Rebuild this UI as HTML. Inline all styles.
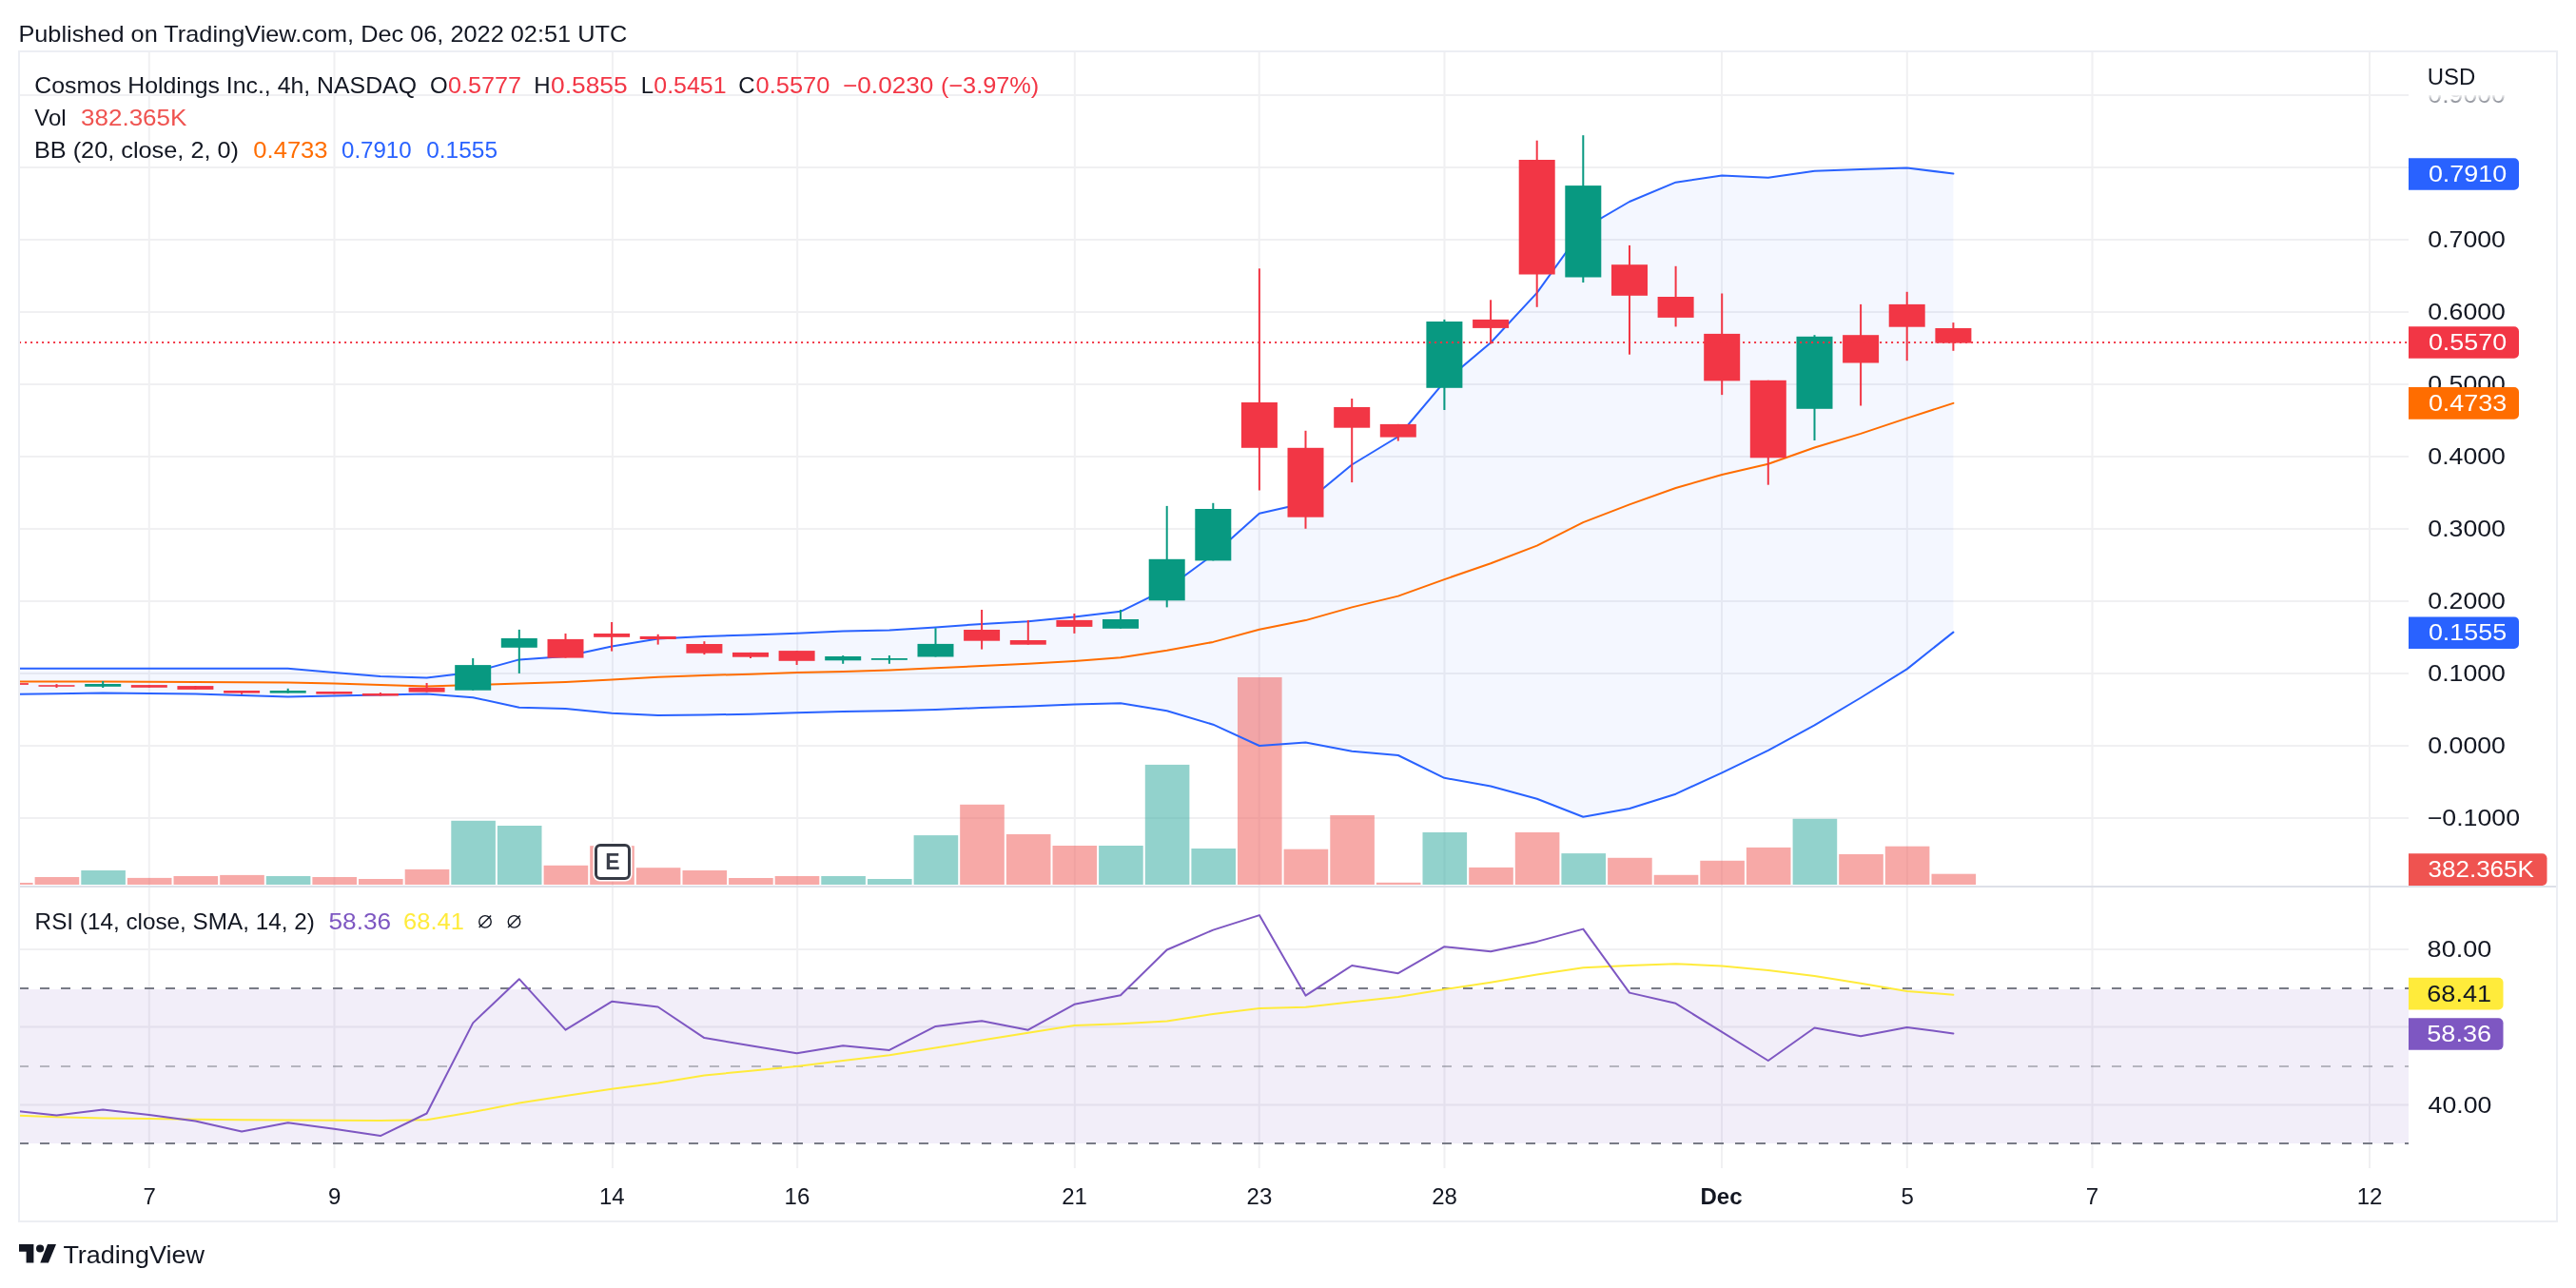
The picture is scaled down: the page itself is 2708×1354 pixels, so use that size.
<!DOCTYPE html><html><head><meta charset="utf-8"><style>html,body{margin:0;padding:0;background:#fff;width:2708px;height:1354px;overflow:hidden}svg{display:block;will-change:transform}text{font-family:"Liberation Sans",sans-serif}</style></head><body>
<svg width="2708" height="1354" viewBox="0 0 2708 1354">
<defs><clipPath id="mainc"><rect x="20" y="54" width="2512" height="876"/></clipPath><clipPath id="rsic"><rect x="20" y="933" width="2512" height="295"/></clipPath><linearGradient id="fadeg" x1="0" y1="0" x2="0" y2="1"><stop offset="0" stop-color="#fff" stop-opacity="0.85"/><stop offset="1" stop-color="#fff" stop-opacity="0"/></linearGradient><clipPath id="axc"><rect x="2532" y="100" width="156" height="830"/></clipPath></defs>
<rect width="2708" height="1354" fill="#FFFFFF"/>
<text id="t1" x="19.40" y="43.5" font-size="24" fill="#131722" textLength="639.8" lengthAdjust="spacingAndGlyphs">Published on TradingView.com, Dec 06, 2022 02:51 UTC</text>
<rect x="155.8" y="54" width="2" height="1174" fill="#F0F0F2"/>
<rect x="350.5" y="54" width="2" height="1174" fill="#F0F0F2"/>
<rect x="642.9" y="54" width="2" height="1174" fill="#F0F0F2"/>
<rect x="837.2" y="54" width="2" height="1174" fill="#F0F0F2"/>
<rect x="1128.8" y="54" width="2" height="1174" fill="#F0F0F2"/>
<rect x="1322.7" y="54" width="2" height="1174" fill="#F0F0F2"/>
<rect x="1517.5" y="54" width="2" height="1174" fill="#F0F0F2"/>
<rect x="1809.0" y="54" width="2" height="1174" fill="#F0F0F2"/>
<rect x="2003.8" y="54" width="2" height="1174" fill="#F0F0F2"/>
<rect x="2198.5" y="54" width="2" height="1174" fill="#F0F0F2"/>
<rect x="2490.0" y="54" width="2" height="1174" fill="#F0F0F2"/>
<rect x="20" y="99" width="2512" height="2" fill="#F0F0F2"/>
<rect x="20" y="175" width="2512" height="2" fill="#F0F0F2"/>
<rect x="20" y="251" width="2512" height="2" fill="#F0F0F2"/>
<rect x="20" y="327" width="2512" height="2" fill="#F0F0F2"/>
<rect x="20" y="403" width="2512" height="2" fill="#F0F0F2"/>
<rect x="20" y="479" width="2512" height="2" fill="#F0F0F2"/>
<rect x="20" y="555" width="2512" height="2" fill="#F0F0F2"/>
<rect x="20" y="631" width="2512" height="2" fill="#F0F0F2"/>
<rect x="20" y="707" width="2512" height="2" fill="#F0F0F2"/>
<rect x="20" y="783" width="2512" height="2" fill="#F0F0F2"/>
<rect x="20" y="859" width="2512" height="2" fill="#F0F0F2"/>
<rect x="20" y="997.0" width="2512" height="2" fill="#F0F0F2"/>
<rect x="20" y="1078.5" width="2512" height="2" fill="#F0F0F2"/>
<rect x="20" y="1160.5" width="2512" height="2" fill="#F0F0F2"/>
<g clip-path="url(#mainc)">
<polygon points="10.9,702.8 59.5,702.8 108.2,702.8 156.8,702.8 205.4,702.8 254.1,702.8 302.7,702.8 351.3,706.9 399.9,711.1 448.6,712.5 497.2,706.8 545.8,693.4 594.5,689.9 643.1,679.4 691.7,671.5 740.4,668.9 789.0,667.5 837.6,665.8 886.2,663.5 934.9,662.4 983.5,659.4 1032.1,655.9 1080.8,653.3 1129.4,648.6 1178.0,642.8 1226.7,618.9 1275.3,583.2 1323.9,539.7 1372.5,528.8 1421.2,488.5 1469.8,459.0 1518.4,401.3 1567.1,360.2 1615.7,307.9 1664.3,240.3 1713.0,212.0 1761.6,191.7 1810.2,184.6 1858.8,186.8 1907.5,179.7 1956.1,178.0 2004.7,176.4 2053.4,182.6 2053.4,664.6 2004.7,703.4 1956.1,733.5 1907.5,762.4 1858.8,788.9 1810.2,812.3 1761.6,834.7 1713.0,850.0 1664.3,858.8 1615.7,839.7 1567.1,826.5 1518.4,817.8 1469.8,794.0 1421.2,789.7 1372.5,780.6 1323.9,784.0 1275.3,761.7 1226.7,747.3 1178.0,739.2 1129.4,740.6 1080.8,742.4 1032.1,744.1 983.5,745.9 934.9,747.3 886.2,748.0 837.6,749.3 789.0,750.7 740.4,751.5 691.7,751.9 643.1,749.8 594.5,744.9 545.8,743.7 497.2,733.2 448.6,729.6 399.9,730.5 351.3,731.5 302.7,732.5 254.1,731.0 205.4,729.5 156.8,729.0 108.2,728.6 59.5,729.3 10.9,730.0" fill="rgba(41,98,255,0.05)"/>
<rect x="-12.0" y="928.0" width="46.6" height="2.0" fill="#EF5350" fill-opacity="0.5"/>
<rect x="36.6" y="922.0" width="46.6" height="8.0" fill="#EF5350" fill-opacity="0.5"/>
<rect x="85.3" y="915.0" width="46.6" height="15.0" fill="#26A69A" fill-opacity="0.5"/>
<rect x="133.9" y="922.9" width="46.6" height="7.1" fill="#EF5350" fill-opacity="0.5"/>
<rect x="182.5" y="921.0" width="46.6" height="9.0" fill="#EF5350" fill-opacity="0.5"/>
<rect x="231.2" y="919.9" width="46.6" height="10.1" fill="#EF5350" fill-opacity="0.5"/>
<rect x="279.8" y="921.0" width="46.6" height="9.0" fill="#26A69A" fill-opacity="0.5"/>
<rect x="328.4" y="922.0" width="46.6" height="8.0" fill="#EF5350" fill-opacity="0.5"/>
<rect x="377.0" y="924.0" width="46.6" height="6.0" fill="#EF5350" fill-opacity="0.5"/>
<rect x="425.7" y="913.9" width="46.6" height="16.1" fill="#EF5350" fill-opacity="0.5"/>
<rect x="474.3" y="862.8" width="46.6" height="67.2" fill="#26A69A" fill-opacity="0.5"/>
<rect x="522.9" y="868.0" width="46.6" height="62.0" fill="#26A69A" fill-opacity="0.5"/>
<rect x="571.6" y="909.8" width="46.6" height="20.2" fill="#EF5350" fill-opacity="0.5"/>
<rect x="620.2" y="889.2" width="46.6" height="40.8" fill="#EF5350" fill-opacity="0.5"/>
<rect x="668.8" y="912.2" width="46.6" height="17.8" fill="#EF5350" fill-opacity="0.5"/>
<rect x="717.5" y="915.0" width="46.6" height="15.0" fill="#EF5350" fill-opacity="0.5"/>
<rect x="766.1" y="923.0" width="46.6" height="7.0" fill="#EF5350" fill-opacity="0.5"/>
<rect x="814.7" y="921.0" width="46.6" height="9.0" fill="#EF5350" fill-opacity="0.5"/>
<rect x="863.3" y="921.0" width="46.6" height="9.0" fill="#26A69A" fill-opacity="0.5"/>
<rect x="912.0" y="924.0" width="46.6" height="6.0" fill="#26A69A" fill-opacity="0.5"/>
<rect x="960.6" y="878.1" width="46.6" height="51.9" fill="#26A69A" fill-opacity="0.5"/>
<rect x="1009.2" y="845.8" width="46.6" height="84.2" fill="#EF5350" fill-opacity="0.5"/>
<rect x="1057.9" y="877.0" width="46.6" height="53.0" fill="#EF5350" fill-opacity="0.5"/>
<rect x="1106.5" y="889.0" width="46.6" height="41.0" fill="#EF5350" fill-opacity="0.5"/>
<rect x="1155.1" y="889.0" width="46.6" height="41.0" fill="#26A69A" fill-opacity="0.5"/>
<rect x="1203.8" y="803.9" width="46.6" height="126.1" fill="#26A69A" fill-opacity="0.5"/>
<rect x="1252.4" y="892.0" width="46.6" height="38.0" fill="#26A69A" fill-opacity="0.5"/>
<rect x="1301.0" y="712.0" width="46.6" height="218.0" fill="#EF5350" fill-opacity="0.5"/>
<rect x="1349.6" y="892.7" width="46.6" height="37.3" fill="#EF5350" fill-opacity="0.5"/>
<rect x="1398.3" y="857.0" width="46.6" height="73.0" fill="#EF5350" fill-opacity="0.5"/>
<rect x="1446.9" y="927.8" width="46.6" height="2.2" fill="#EF5350" fill-opacity="0.5"/>
<rect x="1495.5" y="875.0" width="46.6" height="55.0" fill="#26A69A" fill-opacity="0.5"/>
<rect x="1544.2" y="911.9" width="46.6" height="18.1" fill="#EF5350" fill-opacity="0.5"/>
<rect x="1592.8" y="875.0" width="46.6" height="55.0" fill="#EF5350" fill-opacity="0.5"/>
<rect x="1641.4" y="897.1" width="46.6" height="32.9" fill="#26A69A" fill-opacity="0.5"/>
<rect x="1690.1" y="901.8" width="46.6" height="28.2" fill="#EF5350" fill-opacity="0.5"/>
<rect x="1738.7" y="919.8" width="46.6" height="10.2" fill="#EF5350" fill-opacity="0.5"/>
<rect x="1787.3" y="904.8" width="46.6" height="25.2" fill="#EF5350" fill-opacity="0.5"/>
<rect x="1835.9" y="890.9" width="46.6" height="39.1" fill="#EF5350" fill-opacity="0.5"/>
<rect x="1884.6" y="860.8" width="46.6" height="69.2" fill="#26A69A" fill-opacity="0.5"/>
<rect x="1933.2" y="898.0" width="46.6" height="32.0" fill="#EF5350" fill-opacity="0.5"/>
<rect x="1981.8" y="889.7" width="46.6" height="40.3" fill="#EF5350" fill-opacity="0.5"/>
<rect x="2030.5" y="918.7" width="46.6" height="11.3" fill="#EF5350" fill-opacity="0.5"/>
<polyline points="10.9,702.8 59.5,702.8 108.2,702.8 156.8,702.8 205.4,702.8 254.1,702.8 302.7,702.8 351.3,706.9 399.9,711.1 448.6,712.5 497.2,706.8 545.8,693.4 594.5,689.9 643.1,679.4 691.7,671.5 740.4,668.9 789.0,667.5 837.6,665.8 886.2,663.5 934.9,662.4 983.5,659.4 1032.1,655.9 1080.8,653.3 1129.4,648.6 1178.0,642.8 1226.7,618.9 1275.3,583.2 1323.9,539.7 1372.5,528.8 1421.2,488.5 1469.8,459.0 1518.4,401.3 1567.1,360.2 1615.7,307.9 1664.3,240.3 1713.0,212.0 1761.6,191.7 1810.2,184.6 1858.8,186.8 1907.5,179.7 1956.1,178.0 2004.7,176.4 2053.4,182.6" fill="none" stroke="#2962FF" stroke-width="2" stroke-linejoin="round" stroke-linecap="round"/>
<polyline points="10.9,730.0 59.5,729.3 108.2,728.6 156.8,729.0 205.4,729.5 254.1,731.0 302.7,732.5 351.3,731.5 399.9,730.5 448.6,729.6 497.2,733.2 545.8,743.7 594.5,744.9 643.1,749.8 691.7,751.9 740.4,751.5 789.0,750.7 837.6,749.3 886.2,748.0 934.9,747.3 983.5,745.9 1032.1,744.1 1080.8,742.4 1129.4,740.6 1178.0,739.2 1226.7,747.3 1275.3,761.7 1323.9,784.0 1372.5,780.6 1421.2,789.7 1469.8,794.0 1518.4,817.8 1567.1,826.5 1615.7,839.7 1664.3,858.8 1713.0,850.0 1761.6,834.7 1810.2,812.3 1858.8,788.9 1907.5,762.4 1956.1,733.5 2004.7,703.4 2053.4,664.6" fill="none" stroke="#2962FF" stroke-width="2" stroke-linejoin="round" stroke-linecap="round"/>
<polyline points="10.9,716.4 59.5,716.5 108.2,716.6 156.8,716.8 205.4,717.0 254.1,717.2 302.7,717.5 351.3,718.5 399.9,720.0 448.6,721.4 497.2,720.1 545.8,718.5 594.5,717.0 643.1,714.5 691.7,711.7 740.4,710.0 789.0,708.7 837.6,707.0 886.2,706.0 934.9,704.5 983.5,702.2 1032.1,700.1 1080.8,697.8 1129.4,694.9 1178.0,691.2 1226.7,683.7 1275.3,674.9 1323.9,661.7 1372.5,652.1 1421.2,638.4 1469.8,626.6 1518.4,609.1 1567.1,592.2 1615.7,573.6 1664.3,549.1 1713.0,530.4 1761.6,513.0 1810.2,499.0 1858.8,487.8 1907.5,470.5 1956.1,455.9 2004.7,439.6 2053.4,423.9" fill="none" stroke="#FF6D00" stroke-width="2" stroke-linejoin="round" stroke-linecap="round"/>
<rect x="9.9" y="718.1" width="2" height="1.8" fill="#F23645"/>
<rect x="-8.1" y="718.1" width="38" height="1.8" fill="#F23645"/>
<rect x="58.5" y="719.1" width="2" height="3.9" fill="#F23645"/>
<rect x="40.5" y="720.2" width="38" height="1.6" fill="#F23645"/>
<rect x="107.2" y="716.0" width="2" height="7.0" fill="#089981"/>
<rect x="89.2" y="719.0" width="38" height="2.8" fill="#089981"/>
<rect x="155.8" y="720.1" width="2" height="2.7" fill="#F23645"/>
<rect x="137.8" y="720.1" width="38" height="2.7" fill="#F23645"/>
<rect x="204.4" y="721.1" width="2" height="3.8" fill="#F23645"/>
<rect x="186.4" y="721.1" width="38" height="3.8" fill="#F23645"/>
<rect x="253.1" y="726.0" width="2" height="3.8" fill="#F23645"/>
<rect x="235.1" y="726.0" width="38" height="2.6" fill="#F23645"/>
<rect x="301.7" y="723.8" width="2" height="4.8" fill="#089981"/>
<rect x="283.7" y="726.0" width="38" height="2.6" fill="#089981"/>
<rect x="350.3" y="727.0" width="2" height="2.6" fill="#F23645"/>
<rect x="332.3" y="727.0" width="38" height="2.6" fill="#F23645"/>
<rect x="398.9" y="728.0" width="2" height="3.5" fill="#F23645"/>
<rect x="380.9" y="729.0" width="38" height="2.5" fill="#F23645"/>
<rect x="447.6" y="718.0" width="2" height="9.6" fill="#F23645"/>
<rect x="429.6" y="722.8" width="38" height="4.8" fill="#F23645"/>
<rect x="496.2" y="692.0" width="2" height="33.7" fill="#089981"/>
<rect x="478.2" y="699.1" width="38" height="26.6" fill="#089981"/>
<rect x="544.8" y="661.9" width="2" height="46.0" fill="#089981"/>
<rect x="526.8" y="671.0" width="38" height="9.8" fill="#089981"/>
<rect x="593.5" y="666.0" width="2" height="25.6" fill="#F23645"/>
<rect x="575.5" y="671.9" width="38" height="19.7" fill="#F23645"/>
<rect x="642.1" y="654.0" width="2" height="30.6" fill="#F23645"/>
<rect x="624.1" y="666.0" width="38" height="3.8" fill="#F23645"/>
<rect x="690.7" y="666.8" width="2" height="10.8" fill="#F23645"/>
<rect x="672.7" y="668.9" width="38" height="3.1" fill="#F23645"/>
<rect x="739.4" y="674.2" width="2" height="13.9" fill="#F23645"/>
<rect x="721.4" y="677.0" width="38" height="9.7" fill="#F23645"/>
<rect x="788.0" y="685.9" width="2" height="6.1" fill="#F23645"/>
<rect x="770.0" y="685.9" width="38" height="4.8" fill="#F23645"/>
<rect x="836.6" y="684.1" width="2" height="14.9" fill="#F23645"/>
<rect x="818.6" y="684.1" width="38" height="10.7" fill="#F23645"/>
<rect x="885.2" y="689.1" width="2" height="8.7" fill="#089981"/>
<rect x="867.2" y="690.0" width="38" height="4.3" fill="#089981"/>
<rect x="933.9" y="689.0" width="2" height="8.8" fill="#089981"/>
<rect x="915.9" y="692.0" width="38" height="1.8" fill="#089981"/>
<rect x="982.5" y="660.3" width="2" height="30.2" fill="#089981"/>
<rect x="964.5" y="676.9" width="38" height="13.6" fill="#089981"/>
<rect x="1031.1" y="641.0" width="2" height="41.6" fill="#F23645"/>
<rect x="1013.1" y="662.0" width="38" height="11.7" fill="#F23645"/>
<rect x="1079.8" y="652.0" width="2" height="25.7" fill="#F23645"/>
<rect x="1061.8" y="673.0" width="38" height="4.7" fill="#F23645"/>
<rect x="1128.4" y="645.0" width="2" height="20.9" fill="#F23645"/>
<rect x="1110.4" y="651.9" width="38" height="7.0" fill="#F23645"/>
<rect x="1177.0" y="641.0" width="2" height="19.8" fill="#089981"/>
<rect x="1159.0" y="651.0" width="38" height="9.8" fill="#089981"/>
<rect x="1225.7" y="531.9" width="2" height="106.5" fill="#089981"/>
<rect x="1207.7" y="587.8" width="38" height="43.5" fill="#089981"/>
<rect x="1274.3" y="528.8" width="2" height="60.6" fill="#089981"/>
<rect x="1256.3" y="535.0" width="38" height="54.4" fill="#089981"/>
<rect x="1322.9" y="282.3" width="2" height="233.2" fill="#F23645"/>
<rect x="1304.9" y="423.0" width="38" height="47.8" fill="#F23645"/>
<rect x="1371.5" y="452.8" width="2" height="103.0" fill="#F23645"/>
<rect x="1353.5" y="470.8" width="38" height="72.9" fill="#F23645"/>
<rect x="1420.2" y="419.0" width="2" height="88.1" fill="#F23645"/>
<rect x="1402.2" y="428.0" width="38" height="21.7" fill="#F23645"/>
<rect x="1468.8" y="445.9" width="2" height="17.7" fill="#F23645"/>
<rect x="1450.8" y="445.9" width="38" height="13.7" fill="#F23645"/>
<rect x="1517.4" y="335.9" width="2" height="95.1" fill="#089981"/>
<rect x="1499.4" y="338.0" width="38" height="69.8" fill="#089981"/>
<rect x="1566.1" y="315.3" width="2" height="46.2" fill="#F23645"/>
<rect x="1548.1" y="335.9" width="38" height="9.0" fill="#F23645"/>
<rect x="1614.7" y="147.7" width="2" height="175.1" fill="#F23645"/>
<rect x="1596.7" y="168.0" width="38" height="120.5" fill="#F23645"/>
<rect x="1663.3" y="142.2" width="2" height="154.8" fill="#089981"/>
<rect x="1645.3" y="195.1" width="38" height="96.4" fill="#089981"/>
<rect x="1712.0" y="257.9" width="2" height="114.8" fill="#F23645"/>
<rect x="1694.0" y="278.2" width="38" height="32.6" fill="#F23645"/>
<rect x="1760.6" y="279.8" width="2" height="63.6" fill="#F23645"/>
<rect x="1742.6" y="312.0" width="38" height="21.9" fill="#F23645"/>
<rect x="1809.2" y="308.5" width="2" height="106.6" fill="#F23645"/>
<rect x="1791.2" y="350.9" width="38" height="49.5" fill="#F23645"/>
<rect x="1857.8" y="399.8" width="2" height="109.9" fill="#F23645"/>
<rect x="1839.8" y="399.8" width="38" height="81.5" fill="#F23645"/>
<rect x="1906.5" y="352.2" width="2" height="110.8" fill="#089981"/>
<rect x="1888.5" y="353.8" width="38" height="76.0" fill="#089981"/>
<rect x="1955.1" y="319.9" width="2" height="106.6" fill="#F23645"/>
<rect x="1937.1" y="352.2" width="38" height="29.3" fill="#F23645"/>
<rect x="2003.7" y="306.8" width="2" height="72.4" fill="#F23645"/>
<rect x="1985.7" y="319.9" width="38" height="23.8" fill="#F23645"/>
<rect x="2052.4" y="339.1" width="2" height="29.7" fill="#F23645"/>
<rect x="2034.4" y="345.0" width="38" height="15.6" fill="#F23645"/>
<line x1="20" y1="360" x2="2532" y2="360" stroke="#F23645" stroke-width="2" stroke-dasharray="2 4" stroke-dashoffset="-0.1"/>
<rect x="623.5" y="885.5" width="41" height="41" rx="7" fill="#FFFFFF"/>
<rect x="626.5" y="888.5" width="35" height="35" rx="4.5" fill="#FFFFFF" stroke="#363A45" stroke-width="3"/>
<text x="644" y="913.7" font-size="23" font-weight="bold" fill="#3B3F4B" text-anchor="middle">E</text>
</g>
<rect x="20" y="931" width="2668" height="2" fill="#DDE0E8"/>
<g clip-path="url(#rsic)">
<rect x="20" y="1040" width="2512" height="162" fill="rgba(126,87,194,0.1)"/>
<line x1="20" y1="1039" x2="2532" y2="1039" stroke="#787B86" stroke-width="2" stroke-dasharray="10 12"/>
<line x1="20" y1="1121" x2="2532" y2="1121" stroke="rgba(120,123,134,0.5)" stroke-width="2" stroke-dasharray="10 12"/>
<line x1="20" y1="1202" x2="2532" y2="1202" stroke="#787B86" stroke-width="2" stroke-dasharray="10 12"/>
<polyline points="10.9,1172.5 59.5,1174.2 108.2,1175.4 156.8,1176.0 205.4,1176.7 254.1,1177.3 302.7,1177.5 351.3,1177.8 399.9,1178.0 448.6,1177.3 497.2,1169.1 545.8,1159.6 594.5,1152.0 643.1,1144.7 691.7,1138.5 740.4,1130.5 789.0,1125.7 837.6,1121.0 886.2,1115.0 934.9,1109.3 983.5,1101.5 1032.1,1093.6 1080.8,1085.7 1129.4,1078.1 1178.0,1076.2 1226.7,1073.5 1275.3,1065.9 1323.9,1059.9 1372.5,1058.7 1421.2,1053.3 1469.8,1048.0 1518.4,1040.0 1567.1,1032.7 1615.7,1024.4 1664.3,1017.3 1713.0,1015.0 1761.6,1013.2 1810.2,1015.6 1858.8,1020.0 1907.5,1025.9 1956.1,1033.8 2004.7,1042.1 2053.4,1045.7" fill="none" stroke="#FFEB3B" stroke-width="2" stroke-linejoin="round" stroke-linecap="round"/>
<polyline points="10.9,1167.3 59.5,1172.5 108.2,1166.6 156.8,1172.0 205.4,1178.6 254.1,1189.5 302.7,1180.3 351.3,1186.8 399.9,1194.1 448.6,1170.5 497.2,1075.4 545.8,1029.2 594.5,1082.7 643.1,1052.8 691.7,1058.5 740.4,1091.1 789.0,1099.2 837.6,1107.2 886.2,1099.3 934.9,1103.9 983.5,1078.9 1032.1,1073.2 1080.8,1082.7 1129.4,1055.8 1178.0,1046.3 1226.7,998.5 1275.3,977.6 1323.9,962.1 1372.5,1046.6 1421.2,1015.0 1469.8,1023.2 1518.4,995.2 1567.1,1000.2 1615.7,989.9 1664.3,976.6 1713.0,1043.6 1761.6,1054.8 1810.2,1084.9 1858.8,1115.0 1907.5,1080.5 1956.1,1089.3 2004.7,1079.9 2053.4,1086.4" fill="none" stroke="#7E57C2" stroke-width="2" stroke-linejoin="round" stroke-linecap="round"/>
</g>
<rect x="20" y="54" width="2668" height="1230" fill="none" stroke="#ECEEF3" stroke-width="2"/>
<text id="t2" x="36.30" y="97.9" font-size="24" fill="#131722" textLength="401.7" lengthAdjust="spacingAndGlyphs">Cosmos Holdings Inc., 4h, NASDAQ</text>
<text id="t3" x="452.10" y="97.9" font-size="24" fill="#131722">O</text>
<text id="t4" x="471.00" y="97.9" font-size="24" fill="#F23645" textLength="77.0" lengthAdjust="spacingAndGlyphs">0.5777</text>
<text id="t5" x="561.20" y="97.9" font-size="24" fill="#131722">H</text>
<text id="t6" x="579.00" y="97.9" font-size="24" fill="#F23645" textLength="80.6" lengthAdjust="spacingAndGlyphs">0.5855</text>
<text id="t7" x="673.70" y="97.9" font-size="24" fill="#131722">L</text>
<text id="t8" x="687.30" y="97.9" font-size="24" fill="#F23645" textLength="76.2" lengthAdjust="spacingAndGlyphs">0.5451</text>
<text id="t9" x="776.20" y="97.9" font-size="24" fill="#131722">C</text>
<text id="t10" x="794.60" y="97.9" font-size="24" fill="#F23645" textLength="77.8" lengthAdjust="spacingAndGlyphs">0.5570</text>
<text id="t11" x="886.00" y="97.9" font-size="24" fill="#F23645" textLength="95.4" lengthAdjust="spacingAndGlyphs">−0.0230</text>
<text id="t12" x="988.90" y="97.9" font-size="24" fill="#F23645" textLength="103.4" lengthAdjust="spacingAndGlyphs">(−3.97%)</text>
<text id="t13" x="36.30" y="131.8" font-size="24" fill="#131722">Vol</text>
<text id="t14" x="85.00" y="131.8" font-size="24" fill="#EF5350" textLength="111.4" lengthAdjust="spacingAndGlyphs">382.365K</text>
<text id="t15" x="35.90" y="165.7" font-size="24" fill="#131722" textLength="215.1" lengthAdjust="spacingAndGlyphs">BB (20, close, 2, 0)</text>
<text id="t16" x="266.30" y="165.7" font-size="24" fill="#FF6D00" textLength="78.3" lengthAdjust="spacingAndGlyphs">0.4733</text>
<text id="t17" x="359.00" y="165.7" font-size="24" fill="#2962FF" textLength="73.6" lengthAdjust="spacingAndGlyphs">0.7910</text>
<text id="t18" x="448.20" y="165.7" font-size="24" fill="#2962FF" textLength="74.8" lengthAdjust="spacingAndGlyphs">0.1555</text>
<text id="t19" x="36.60" y="977.1" font-size="24" fill="#131722" textLength="294.2" lengthAdjust="spacingAndGlyphs">RSI (14, close, SMA, 14, 2)</text>
<text id="t20" x="345.50" y="977.1" font-size="24" fill="#7E57C2" textLength="65.6" lengthAdjust="spacingAndGlyphs">58.36</text>
<text id="t21" x="424.10" y="977.1" font-size="24" fill="#FFEB3B" textLength="63.7" lengthAdjust="spacingAndGlyphs">68.41</text>
<circle cx="510.0" cy="968.9" r="6.25" fill="none" stroke="#131722" stroke-width="1.4"/>
<line x1="503.7" y1="975.1" x2="516.1" y2="962.6" stroke="#131722" stroke-width="1.4"/>
<circle cx="540.5" cy="968.9" r="6.25" fill="none" stroke="#131722" stroke-width="1.4"/>
<line x1="534.2" y1="975.1" x2="546.6" y2="962.6" stroke="#131722" stroke-width="1.4"/>
<text id="t24" x="2551.80" y="89" font-size="24" fill="#131722" textLength="50.5" lengthAdjust="spacingAndGlyphs">USD</text>
<g clip-path="url(#axc)">
<text id="t25" x="2552.30" y="108.2" font-size="24" fill="#8F929B" textLength="81.6" lengthAdjust="spacingAndGlyphs">0.9000</text>
<text id="t26" x="2552.30" y="184.2" font-size="24" fill="#131722" textLength="81.6" lengthAdjust="spacingAndGlyphs">0.8000</text>
<text id="t27" x="2552.30" y="260.2" font-size="24" fill="#131722" textLength="81.6" lengthAdjust="spacingAndGlyphs">0.7000</text>
<text id="t28" x="2552.30" y="336.2" font-size="24" fill="#131722" textLength="81.6" lengthAdjust="spacingAndGlyphs">0.6000</text>
<text id="t29" x="2552.30" y="412.2" font-size="24" fill="#131722" textLength="81.6" lengthAdjust="spacingAndGlyphs">0.5000</text>
<text id="t30" x="2552.30" y="488.2" font-size="24" fill="#131722" textLength="81.6" lengthAdjust="spacingAndGlyphs">0.4000</text>
<text id="t31" x="2552.30" y="564.2" font-size="24" fill="#131722" textLength="81.6" lengthAdjust="spacingAndGlyphs">0.3000</text>
<text id="t32" x="2552.30" y="640.2" font-size="24" fill="#131722" textLength="81.6" lengthAdjust="spacingAndGlyphs">0.2000</text>
<text id="t33" x="2552.30" y="716.2" font-size="24" fill="#131722" textLength="81.6" lengthAdjust="spacingAndGlyphs">0.1000</text>
<text id="t34" x="2552.30" y="792.2" font-size="24" fill="#131722" textLength="81.6" lengthAdjust="spacingAndGlyphs">0.0000</text>
<text id="t35" x="2551.70" y="868.2" font-size="24" fill="#131722" textLength="97.4" lengthAdjust="spacingAndGlyphs">−0.1000</text>
<rect x="2540" y="100" width="110" height="7" fill="url(#fadeg)"/>
</g>
<path d="M2532,166.2 h111 a5,5 0 0 1 5,5 v23.6 a5,5 0 0 1 -5,5 h-111 z" fill="#2962FF"/><text id="t36" x="2552.90" y="191.2" font-size="24" fill="#FFFFFF" textLength="82.2" lengthAdjust="spacingAndGlyphs">0.7910</text>
<path d="M2532,343.2 h111 a5,5 0 0 1 5,5 v23.6 a5,5 0 0 1 -5,5 h-111 z" fill="#F23645"/><text id="t37" x="2552.90" y="368.2" font-size="24" fill="#FFFFFF" textLength="82.2" lengthAdjust="spacingAndGlyphs">0.5570</text>
<path d="M2532,407.1 h111 a5,5 0 0 1 5,5 v23.6 a5,5 0 0 1 -5,5 h-111 z" fill="#FF6D00"/><text id="t38" x="2552.90" y="432.09999999999997" font-size="24" fill="#FFFFFF" textLength="82.2" lengthAdjust="spacingAndGlyphs">0.4733</text>
<path d="M2532,648.4 h111 a5,5 0 0 1 5,5 v23.6 a5,5 0 0 1 -5,5 h-111 z" fill="#2962FF"/><text id="t39" x="2552.90" y="673.4000000000001" font-size="24" fill="#FFFFFF" textLength="82.2" lengthAdjust="spacingAndGlyphs">0.1555</text>
<path d="M2532,897.3 h140.5 a5,5 0 0 1 5,5 v23.6 a5,5 0 0 1 -5,5 h-140.5 z" fill="#EF5350"/><text id="t40" x="2552.50" y="922.3000000000001" font-size="24" fill="#FFFFFF" textLength="111.4" lengthAdjust="spacingAndGlyphs">382.365K</text>
<text id="t41" x="2551.60" y="1006.2" font-size="24" fill="#131722" textLength="67.7" lengthAdjust="spacingAndGlyphs">80.00</text>
<text id="t42" x="2552.60" y="1169.7" font-size="24" fill="#131722" textLength="66.7" lengthAdjust="spacingAndGlyphs">40.00</text>
<path d="M2532,1027.8 h94.5 a5,5 0 0 1 5,5 v23.6 a5,5 0 0 1 -5,5 h-94.5 z" fill="#FFEB3B"/><text id="t43" x="2551.30" y="1052.8" font-size="24" fill="#131722" textLength="67.8" lengthAdjust="spacingAndGlyphs">68.41</text>
<path d="M2532,1070.2 h94.5 a5,5 0 0 1 5,5 v23.6 a5,5 0 0 1 -5,5 h-94.5 z" fill="#7E57C2"/><text id="t44" x="2551.30" y="1095.2" font-size="24" fill="#FFFFFF" textLength="67.8" lengthAdjust="spacingAndGlyphs">58.36</text>
<text id="t45" x="157.10" y="1266" font-size="24" fill="#131722" text-anchor="middle">7</text>
<text id="t46" x="351.70" y="1266" font-size="24" fill="#131722" text-anchor="middle">9</text>
<text id="t47" x="643.30" y="1266" font-size="24" fill="#131722" text-anchor="middle">14</text>
<text id="t48" x="837.90" y="1266" font-size="24" fill="#131722" text-anchor="middle">16</text>
<text id="t49" x="1129.60" y="1266" font-size="24" fill="#131722" text-anchor="middle">21</text>
<text id="t50" x="1323.90" y="1266" font-size="24" fill="#131722" text-anchor="middle">23</text>
<text id="t51" x="1518.50" y="1266" font-size="24" fill="#131722" text-anchor="middle">28</text>
<text id="t52" x="1809.50" y="1266" font-size="24" fill="#131722" text-anchor="middle" font-weight="bold">Dec</text>
<text id="t53" x="2005.10" y="1266" font-size="24" fill="#131722" text-anchor="middle">5</text>
<text id="t54" x="2199.50" y="1266" font-size="24" fill="#131722" text-anchor="middle">7</text>
<text id="t55" x="2491.00" y="1266" font-size="24" fill="#131722" text-anchor="middle">12</text>
<path d="M20,1308 H35.4 V1327.4 H27.6 V1315.8 H20 Z" fill="#131722"/>
<circle cx="42.1" cy="1312.5" r="4.1" fill="#131722"/>
<path d="M50,1308 H59 L50.9,1327.4 H42.3 Z" fill="#131722"/>
<text id="t56" x="66.40" y="1327.9" font-size="26" fill="#131722" textLength="148.5" lengthAdjust="spacingAndGlyphs">TradingView</text>
</svg></body></html>
